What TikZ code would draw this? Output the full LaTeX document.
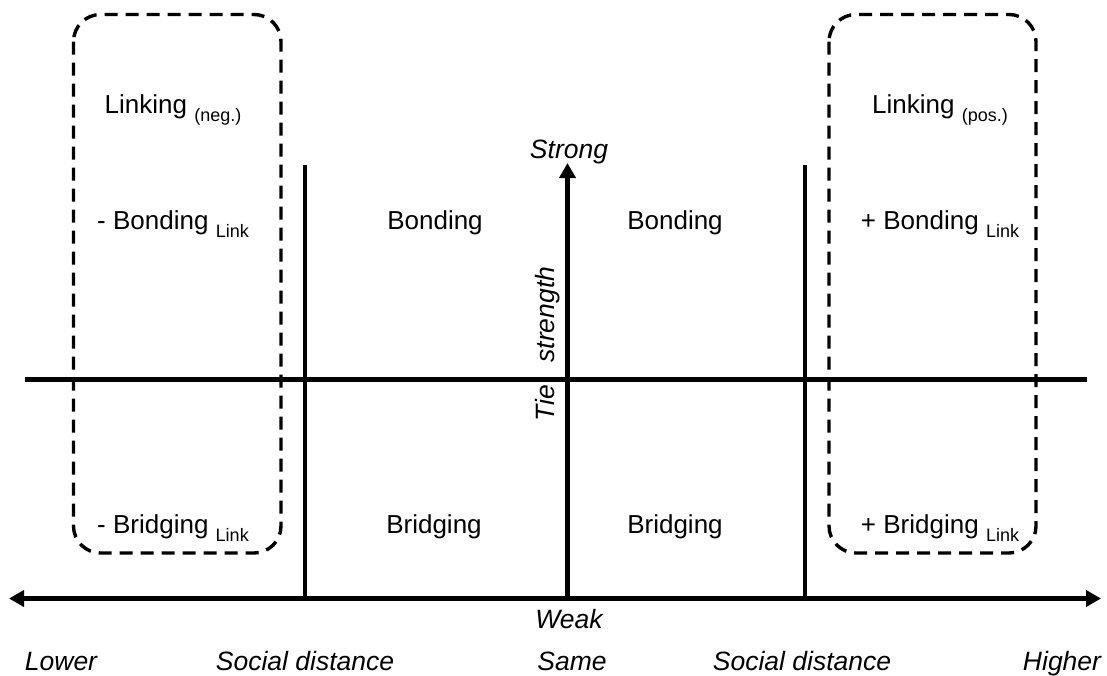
\documentclass[tikz,border=0pt]{standalone}
\usepackage{fontspec}
\setmainfont{Liberation Sans}
\usetikzlibrary{arrows.meta}
\newcommand{\lsub}[1]{{\fontsize{18}{20}\selectfont\raisebox{-8pt}{#1}}}
\begin{document}
\begin{tikzpicture}[x=1pt,y=-1pt,
  axis/.style={line width=4.6pt},
  arr/.style={line width=4.6pt,-{Triangle[length=15pt,width=16pt]}},
  linkbox/.style={draw,line width=3.4pt,dash pattern=on 13pt off 8pt,rounded corners=27pt},
  lbl/.style={font=\fontsize{26}{30}\selectfont,inner sep=0pt,anchor=base},
  ital/.style={font=\fontsize{26.5}{30}\selectfont\itshape,inner sep=0pt,anchor=base}]
\useasboundingbox (0,0) rectangle (1107,675);
% dashed boxes
\draw[linkbox] (73.5,14.5) rectangle (281,553);
\draw[linkbox] (829,14.5) rectangle (1036,553);
% axes
\coordinate (hl) at (25,379.5);
\coordinate (hr) at (1087,379.5);
\draw[axis] (hl) -- (hr);
\coordinate (v1t) at (305,165);
\coordinate (v1b) at (305,598.5);
\coordinate (v2t) at (805,165);
\coordinate (v2b) at (805,598.5);
\draw[axis] (v1t) -- (v1b);
\draw[axis] (v2t) -- (v2b);
\coordinate (cb) at (567.5,598.5);
\coordinate (ct) at (567.5,163);
\draw[arr] (cb) -- (ct);
\coordinate (bm) at (567.5,598.5);
\coordinate (bl) at (9,598.5);
\coordinate (br) at (1101,598.5);
\draw[arr] (bm) -- (bl);
\draw[arr] (bm) -- (br);
% labels
\node[lbl] (ln) at (173,113) {Linking \lsub{(neg.)}};
\node[lbl] (lp) at (940,113) {Linking \lsub{(pos.)}};
\node[lbl] (bn) at (173,229) {- Bonding \lsub{Link}};
\node[lbl] (b1) at (435,229) {Bonding};
\node[lbl] (b2) at (675,229) {Bonding};
\node[lbl] (bp) at (940,229) {+ Bonding \lsub{Link}};
\node[lbl] (brn) at (173,533) {- Bridging \lsub{Link}};
\node[lbl] (br1) at (434,533) {Bridging};
\node[lbl] (br2) at (675,533) {Bridging};
\node[lbl] (brp) at (940,533) {+ Bridging \lsub{Link}};
\node[ital] (strong) at (569,158) {Strong};
\node[ital] (weak) at (569,628) {Weak};
\node[ital,rotate=90] (tie) at (554,344) {Tie\hspace{22pt}strength};
\node[ital] (lower) at (61,670) {Lower};
\node[ital] (sd1) at (305,670) {Social distance};
\node[ital] (same) at (572,670) {Same};
\node[ital] (sd2) at (802,670) {Social distance};
\node[ital] (higher) at (1062,670) {Higher};
\end{tikzpicture}
\end{document}
